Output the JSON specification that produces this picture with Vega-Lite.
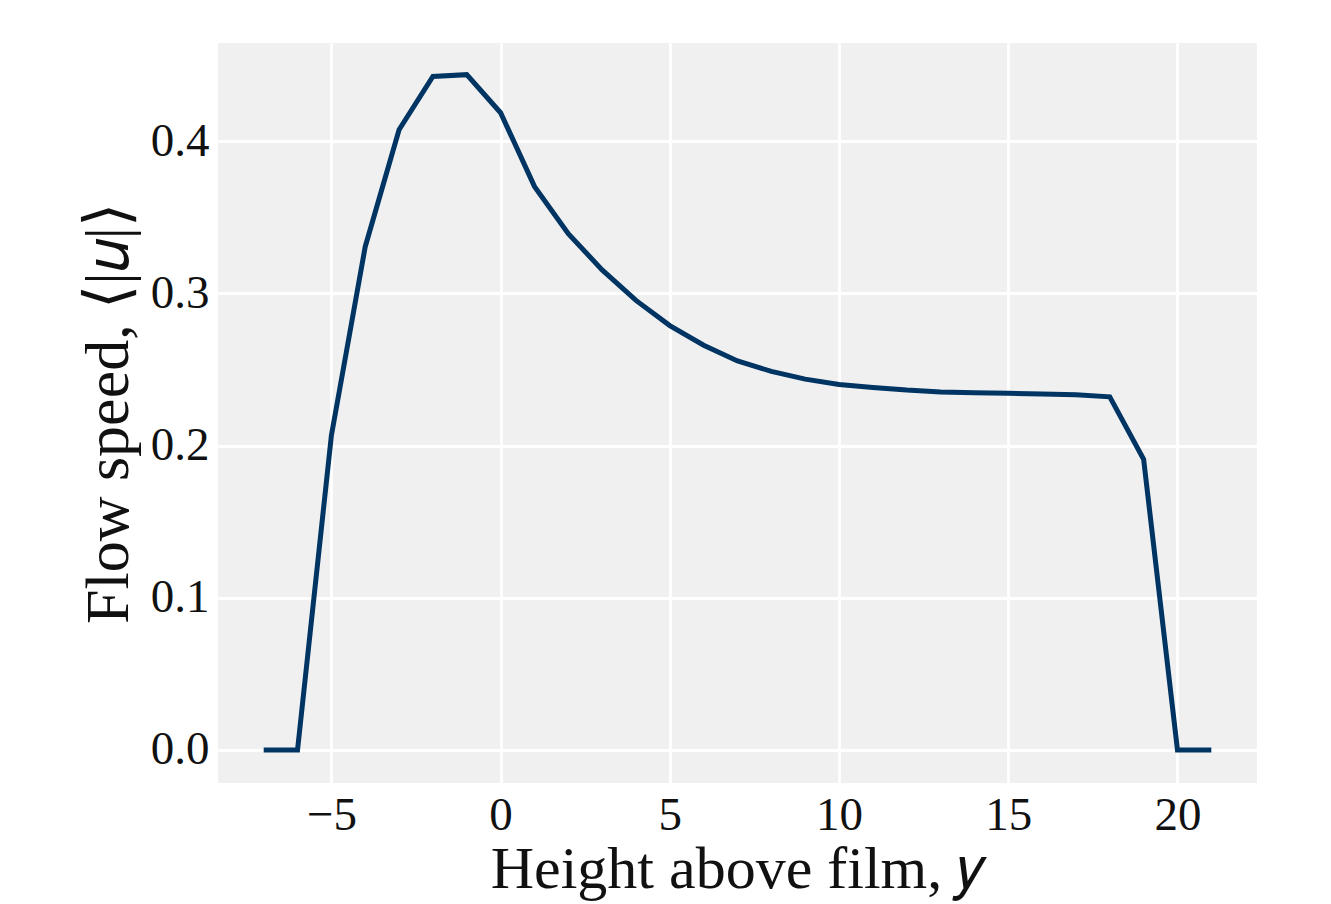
{
  "$schema": "https://vega.github.io/schema/vega-lite/v6.json",
  "autosize": {"type": "none"},
  "padding": {"left": 218, "top": 43, "right": 74, "bottom": 121},
  "width": 1039,
  "height": 740,
  "background": "#ffffff",
  "config": {
    "view": {"fill": "#f0f0f0", "stroke": null},
    "font": "Liberation Serif",
    "axis": {
      "domain": false,
      "ticks": false,
      "grid": true,
      "gridColor": "#ffffff",
      "gridWidth": 2.8,
      "gridOpacity": 1,
      "labelFont": "Liberation Serif",
      "labelFontSize": 47,
      "labelColor": "#111111",
      "titleFont": "Liberation Serif",
      "titleFontSize": 60,
      "titleFontWeight": "normal",
      "titleColor": "#111111"
    }
  },
  "data": {
    "values": [
      {"y": -7, "speed": 0.0},
      {"y": -6, "speed": 0.0},
      {"y": -5, "speed": 0.2065},
      {"y": -4, "speed": 0.3306},
      {"y": -3, "speed": 0.4074},
      {"y": -2, "speed": 0.4424},
      {"y": -1, "speed": 0.4436},
      {"y": 0, "speed": 0.4186},
      {"y": 1, "speed": 0.3702},
      {"y": 2, "speed": 0.3392},
      {"y": 3, "speed": 0.3153},
      {"y": 4, "speed": 0.2953},
      {"y": 5, "speed": 0.2788},
      {"y": 6, "speed": 0.2659},
      {"y": 7, "speed": 0.2555},
      {"y": 8, "speed": 0.2487},
      {"y": 9, "speed": 0.2436},
      {"y": 10, "speed": 0.2401},
      {"y": 11, "speed": 0.2381},
      {"y": 12, "speed": 0.2364},
      {"y": 13, "speed": 0.2352},
      {"y": 14, "speed": 0.2347},
      {"y": 15, "speed": 0.2343},
      {"y": 16, "speed": 0.2338},
      {"y": 17, "speed": 0.2334},
      {"y": 18, "speed": 0.2320},
      {"y": 19, "speed": 0.1910},
      {"y": 20, "speed": 0.0},
      {"y": 21, "speed": 0.0}
    ]
  },
  "mark": {"type": "line", "color": "#003463", "strokeWidth": 5, "strokeJoin": "miter", "strokeCap": "butt"},
  "encoding": {
    "x": {
      "field": "y",
      "type": "quantitative",
      "scale": {"domain": [-8.35, 22.35], "nice": false, "zero": false},
      "axis": {
        "title": "Height above film, 𝑦",
        "values": [-5, 0, 5, 10, 15, 20],
        "format": "d",
        "labelPadding": 9,
        "titlePadding": 2
      }
    },
    "y": {
      "field": "speed",
      "type": "quantitative",
      "scale": {"domain": [-0.0217, 0.4644], "nice": false, "zero": false},
      "axis": {
        "title": "Flow speed, ⟨|𝑢|⟩",
        "values": [0, 0.1, 0.2, 0.3, 0.4],
        "format": ".1f",
        "labelPadding": 9,
        "titlePadding": 10,
        "titleFontSize": 62
      }
    }
  }
}
